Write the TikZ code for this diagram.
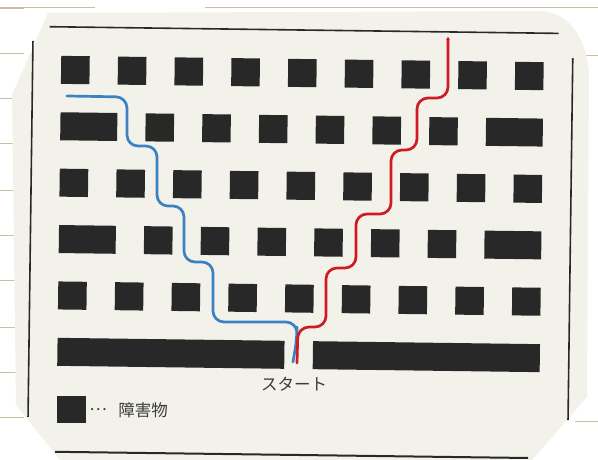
\documentclass[tikz,border=0pt]{standalone}
\usepackage{fontspec}
\newfontfamily\jp{Noto Sans CJK JP}
\usetikzlibrary{arrows.meta}
\definecolor{ink}{HTML}{282828}
\definecolor{cardc}{HTML}{F3F2EA}
\definecolor{rulec}{HTML}{CDBFA5}
\definecolor{bluepath}{HTML}{3C82C2}
\definecolor{redpath}{HTML}{CE1B24}
\definecolor{txt}{HTML}{3A3A3A}
\begin{document}
\begin{tikzpicture}[x=1pt,y=-1pt,
  blockc/.style={fill=ink},
  frameline/.style={draw=ink,line width=1.6pt},
  ruling/.style={draw=rulec,line width=0.9pt},
  pathline/.style={line width=2.7pt,rounded corners=11pt,line cap=round,line join=round},
  lbl/.style={font=\jp\fontsize{16.5}{19}\selectfont,text=txt,inner sep=0pt}]
\useasboundingbox (0,0) rectangle (598,460);
\fill[white] (0,0) rectangle (598,460);
% page ruling lines behind the card
\foreach \yy in {8,53,98,143,190,235,280,327,372,417}
  \draw[ruling] (0,\yy) -- (24,\yy);
\draw[ruling] (0,7) -- (95,7);
\draw[ruling] (205,7) -- (598,7);
\draw[ruling] (575,55) -- (598,55);
\draw[ruling] (575,421) -- (598,421);
% card
\fill[cardc] (12,95) -- (48,13) -- (540,11) to[out=0,in=95] (589,72) -- (587,397) -- (532,460) -- (60,460) -- (16,405) -- cycle;
\begin{scope}[rotate around={-0.75:(300,230)}]
  % frame
  \draw[frameline] (47,30) -- (556,30);
  \draw[frameline] (30.5,44.5) -- (30.5,420.5);
  \draw[frameline] (570.5,54.5) -- (570.5,416.5);
  \draw[frameline,line width=2pt] (58,455) -- (531,455);
  % rows with nine square blocks
  \foreach \r in {0,2,4}
    \foreach \c in {0,...,8}
      \fill[blockc] ({59+56.75*\c},{59+56.4*\r}) rectangle ++(28.5,28);
  % rows with wide end blocks
  \foreach \r in {1,3}{
    \fill[blockc] (59,{59+56.4*\r}) rectangle (115.9,{87+56.4*\r});
    \foreach \c in {1,...,6}
      \fill[blockc] ({87.4+56.75*\c},{59+56.4*\r}) rectangle ++(28.5,28);
    \fill[blockc] (484.6,{59+56.4*\r}) rectangle (541.5,{87+56.4*\r});
  }
  % bottom bars
  \fill[blockc] (59,341) rectangle (286,369);
  \fill[blockc] (314.5,341) rectangle (541.5,369);
\end{scope}
% paths
\coordinate (blueA) at (67,96);
\coordinate (blueB) at (293,362);
\coordinate (redA) at (297,363);
\coordinate (redB) at (448,37);
\draw[pathline,bluepath] (blueA) -- (127,97) -- (127,146) -- (157,146) -- (157,206) -- (184,206) -- (184,262) -- (213,262) -- (213,322) -- (297,322) -- (297,338) -- (blueB);
\draw[pathline,redpath,-{Stealth[length=4pt,width=4.5pt,round]}] (redA) -- (298,327) -- (326,327) -- (326,268) -- (356,268) -- (356,214) -- (391,214) -- (391,150) -- (417,150) -- (417,98) -- (448,98) -- (redB);
% labels
\node[lbl] (startlbl) at (294,384) {スタート};
\fill[blockc] (57,396) rectangle (86,423);
\node[lbl] (dots) at (98,410) {…};
\node[lbl] (legend) at (143,410) {障害物};
\end{tikzpicture}
\end{document}
